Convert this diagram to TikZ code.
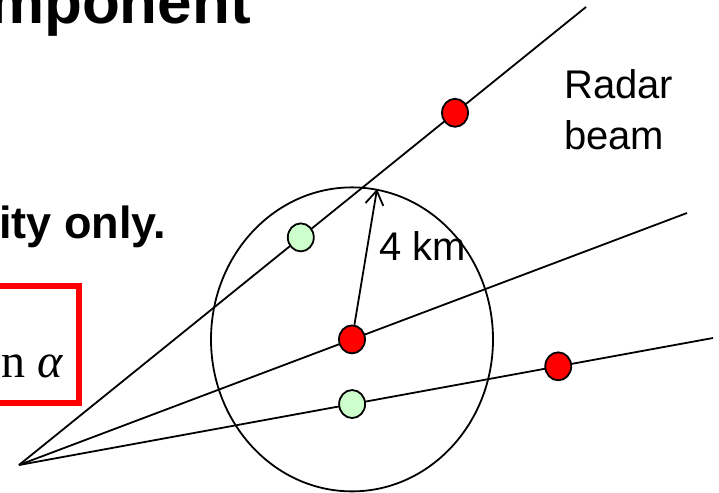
\documentclass[tikz,border=0pt]{standalone}
\usepackage{fontspec}
\setmainfont{Liberation Sans}
\newfontfamily\serifface{Liberation Serif}
\usetikzlibrary{arrows.meta, shapes.geometric}
\definecolor{echored}{HTML}{FF0000}
\definecolor{echogreen}{HTML}{CCFFCC}

\begin{document}
\begin{tikzpicture}[
    x=1pt, y=-1pt,
    beam/.style={line width=1.8pt},
    echo/.style={ellipse, draw, line width=1.8pt, fill=#1, minimum width=26pt, minimum height=28pt, inner sep=0pt},
    txt/.style={font=\fontsize{40}{48}\selectfont, anchor=base west, inner sep=0pt},
    headline/.style={font=\fontsize{#1}{#1}\selectfont\bfseries, inner sep=0pt},
]
    \useasboundingbox (0,0) rectangle (719,492);

    % Slide text, cut by the frame
    \node[headline=62, anchor=base east] (title) at (251,24) {mponent};
    \node[headline=45, anchor=base west] (note) at (-1,238) {ity only.};
    \draw[echored, line width=6pt] (-20,286) rectangle (79,403);
    \node[anchor=base east, inner sep=0pt, font=\serifface\fontsize{48}{48}\selectfont] (sine) at (64,377) {n \textit{α}};

    % Radar and beams
    \coordinate (radar) at (19,465);
    \coordinate (topend) at (586,7);
    \coordinate (midend) at (687,213);
    \coordinate (lowend) at (713,338);

    \draw[beam] (radar) -- (topend)
        node[echo=echogreen, pos=0.497] (near1) {}
        node[echo=echored, pos=0.769] (far1) {};
    \draw[beam] (radar) -- (midend)
        node[echo=echored, pos=0.4985] (target) {};
    \draw[beam] (radar) -- (lowend)
        node[echo=echogreen, pos=0.48] (near3) {}
        node[echo=echored, pos=0.777] (far3) {};

    % Range circle
    \draw[beam] (target) ellipse [x radius=141, y radius=152];
    \coordinate (rim) at (377,189);
    \draw[beam, -{Straight Barb[length=14pt, width=18pt]}] (target) -- (rim);

    % Labels
    \node[txt] (range) at (379,260) {4 km};
    \node[txt] (radarname) at (564,99) {Radar};
    \node[txt] (beamname) at (564,149) {beam};

\end{tikzpicture}
\end{document}
